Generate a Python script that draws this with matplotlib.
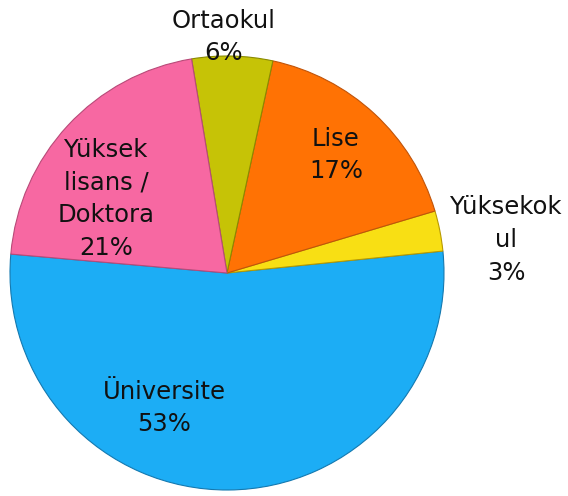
import matplotlib
matplotlib.use("Agg")
import matplotlib.pyplot as plt

categories = ["Üniversite", "Yüksekokul", "Lise", "Ortaokul", "Yüksek lisans / Doktora"]
values = [53, 3, 17, 6, 21]
label_texts = ["Üniversite\n53%", "Yüksekok\nul\n3%", "Lise\n17%", "Ortaokul\n6%", "Yüksek\nlisans /\nDoktora\n21%"]
colors = ["#1cadf5", "#f8df14", "#ff7204", "#c6c306", "#f768a2"]
edge_colors = ["#1479b0", "#b89a00", "#c0540a", "#8a8a00", "#b84a78"]
label_pos = [(164, 88), (506, 256), (336, 341), (224, 459), (106, 297)]

fig = plt.figure(figsize=(5.68, 4.96), dpi=100)
ax = fig.add_axes([0, 0, 1, 1])
wedges, _ = ax.pie(values, colors=colors, startangle=175, counterclock=True,
                   center=(227, 223), radius=217,
                   wedgeprops=dict(linewidth=0.8))
for w, ec in zip(wedges, edge_colors):
    w.set_edgecolor(ec)

for txt, (x, y) in zip(label_texts, label_pos):
    ax.text(x, y, txt, ha="center", va="center", fontsize=17.5,
            linespacing=1.45, color="#111111", family="DejaVu Sans")

ax.set_xlim(0, 568)
ax.set_ylim(0, 496)
ax.set_aspect("equal")
ax.axis("off")
fig.savefig("out.png", dpi=100)
